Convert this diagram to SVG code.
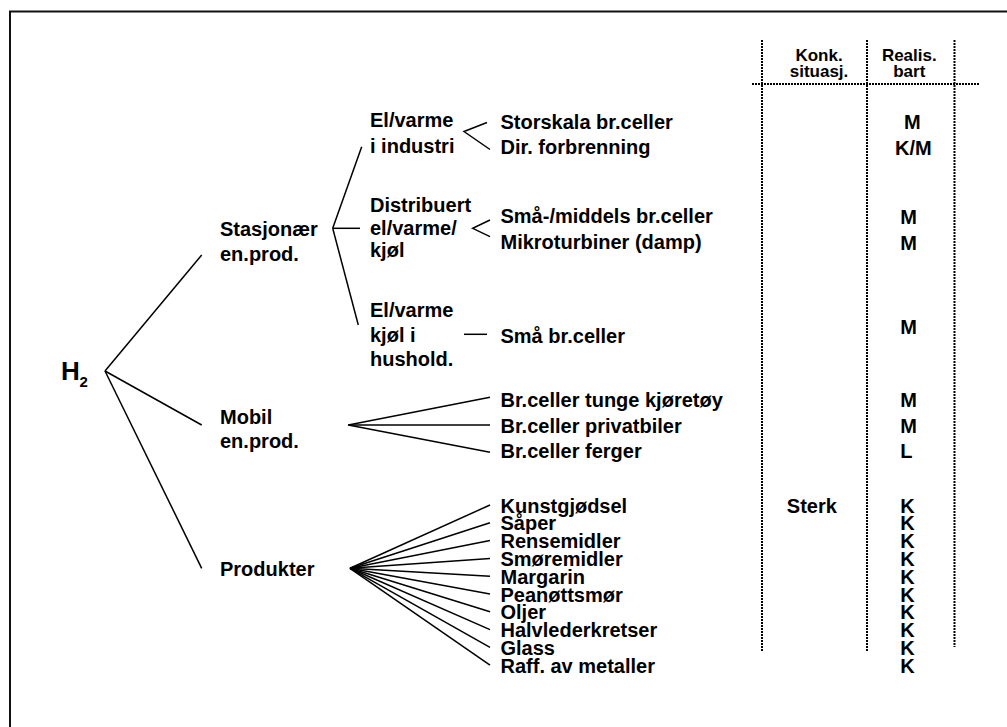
<svg xmlns="http://www.w3.org/2000/svg" width="1007" height="727" viewBox="0 0 1007 727">
<style>
  text { font-family: "Liberation Sans", Arial, sans-serif; font-weight: bold; fill: #000; font-size: 20px; }
  .hdr { font-size: 17px; text-anchor: middle; }
  .ln { stroke: #000; stroke-width: 1.5; fill: none; }
  .dot { stroke: #000; stroke-width: 2; stroke-dasharray: 2 1; fill: none; }
</style>
<rect x="0" y="0" width="1007" height="727" fill="#fff"/>
<rect x="10" y="11.5" width="1100" height="800" fill="none" stroke="#111" stroke-width="2"/>

<g id="grid">
  <line class="dot" x1="762" y1="40" x2="762" y2="651"/>
  <line class="dot" x1="867" y1="40" x2="867" y2="651"/>
  <line class="dot" x1="954.5" y1="40" x2="954.5" y2="647"/>
  <line class="dot" x1="752" y1="84" x2="980" y2="84"/>
</g>

<g id="header">
  <text class="hdr" x="819" y="61">Konk.</text>
  <text class="hdr" x="819" y="76.5">situasj.</text>
  <text class="hdr" x="909.3" y="61">Realis.</text>
  <text class="hdr" x="909.3" y="76.5">bart</text>
</g>

<g id="connectors">
  <line class="ln" x1="105" y1="371" x2="201.7" y2="255"/>
  <line class="ln" x1="105" y1="371" x2="201.7" y2="425"/>
  <line class="ln" x1="105" y1="371" x2="201.7" y2="568.3"/>
  <line class="ln" x1="332.7" y1="228.3" x2="361.7" y2="146.7"/>
  <line class="ln" x1="332.7" y1="228.3" x2="360" y2="228.3"/>
  <line class="ln" x1="332.7" y1="228.3" x2="358.3" y2="325"/>
  <polyline class="ln" points="487,122.5 464,131.5 490,149.5"/>
  <polyline class="ln" points="490,220 472.7,228.3 490,236.7"/>
  <line class="ln" x1="464" y1="334.3" x2="487" y2="334.3"/>
  <line class="ln" x1="348.3" y1="425" x2="490" y2="397.3"/>
  <line class="ln" x1="348.3" y1="425" x2="490" y2="425"/>
  <line class="ln" x1="348.3" y1="425" x2="490" y2="452.3"/>
  <line class="ln" x1="350" y1="568.3" x2="490" y2="505"/>
  <line class="ln" x1="350" y1="568.3" x2="490" y2="522.8"/>
  <line class="ln" x1="350" y1="568.3" x2="490" y2="540.6"/>
  <line class="ln" x1="350" y1="568.3" x2="490" y2="558.4"/>
  <line class="ln" x1="350" y1="568.3" x2="490" y2="576.2"/>
  <line class="ln" x1="350" y1="568.3" x2="490" y2="594"/>
  <line class="ln" x1="350" y1="568.3" x2="490" y2="611.8"/>
  <line class="ln" x1="350" y1="568.3" x2="490" y2="629.6"/>
  <line class="ln" x1="350" y1="568.3" x2="490" y2="647.4"/>
  <line class="ln" x1="350" y1="568.3" x2="490" y2="665.2"/>
</g>

<g id="h2">
  <text x="61" y="380" style="font-size:26px">H</text>
  <text x="79.5" y="387.3" style="font-size:15px">2</text>
</g>

<g id="stasjonaer">
  <text x="220" y="236">Stasjonær</text>
  <text x="220" y="261">en.prod.</text>
</g>
<g id="mobil">
  <text x="220" y="424">Mobil</text>
  <text x="220" y="448">en.prod.</text>
</g>
<g id="produkter">
  <text x="220" y="575.7">Produkter</text>
</g>

<g id="industri">
  <text x="370" y="126.7">El/varme</text>
  <text x="370" y="153.3">i industri</text>
</g>
<g id="distribuert">
  <text x="370" y="211.5">Distribuert</text>
  <text x="370" y="234.5">el/varme/</text>
  <text x="370" y="257.3">kjøl</text>
</g>
<g id="hushold">
  <text x="370" y="316.7">El/varme</text>
  <text x="370" y="341.5">kjøl i</text>
  <text x="370" y="365.5">hushold.</text>
</g>

<g id="leaves">
  <text x="500.5" y="129.3">Storskala br.celler</text>
  <text x="500.5" y="153.5">Dir. forbrenning</text>
  <text x="500.5" y="223.3">Små-/middels br.celler</text>
  <text x="500.5" y="249.3">Mikroturbiner (damp)</text>
  <text x="500.5" y="343.3">Små br.celler</text>
  <text x="500.5" y="407.3">Br.celler tunge kjøretøy</text>
  <text x="500.5" y="433.3">Br.celler privatbiler</text>
  <text x="500.5" y="458.3">Br.celler ferger</text>
</g>

<g id="products">
  <text x="500.5" y="512.5">Kunstgjødsel</text>
  <text x="500.5" y="530.3">Såper</text>
  <text x="500.5" y="548.1">Rensemidler</text>
  <text x="500.5" y="565.9">Smøremidler</text>
  <text x="500.5" y="583.7">Margarin</text>
  <text x="500.5" y="601.5">Peanøttsmør</text>
  <text x="500.5" y="619.3">Oljer</text>
  <text x="500.5" y="637.1">Halvlederkretser</text>
  <text x="500.5" y="654.9">Glass</text>
  <text x="500.5" y="672.7">Raff. av metaller</text>
</g>

<g id="konk">
  <text x="786.8" y="512.5">Sterk</text>
</g>

<g id="realis">
  <text x="904" y="129.3">M</text>
  <text x="895" y="154.5">K/M</text>
  <text x="900.2" y="224">M</text>
  <text x="900.2" y="250">M</text>
  <text x="900.2" y="333.5">M</text>
  <text x="900.2" y="406.5">M</text>
  <text x="900.2" y="433">M</text>
  <text x="900.2" y="458">L</text>
  <text x="900.2" y="512.5">K</text>
  <text x="900.2" y="530.3">K</text>
  <text x="900.2" y="548.1">K</text>
  <text x="900.2" y="565.9">K</text>
  <text x="900.2" y="583.7">K</text>
  <text x="900.2" y="601.5">K</text>
  <text x="900.2" y="619.3">K</text>
  <text x="900.2" y="637.1">K</text>
  <text x="900.2" y="654.9">K</text>
  <text x="900.2" y="672.7">K</text>
</g>
</svg>
